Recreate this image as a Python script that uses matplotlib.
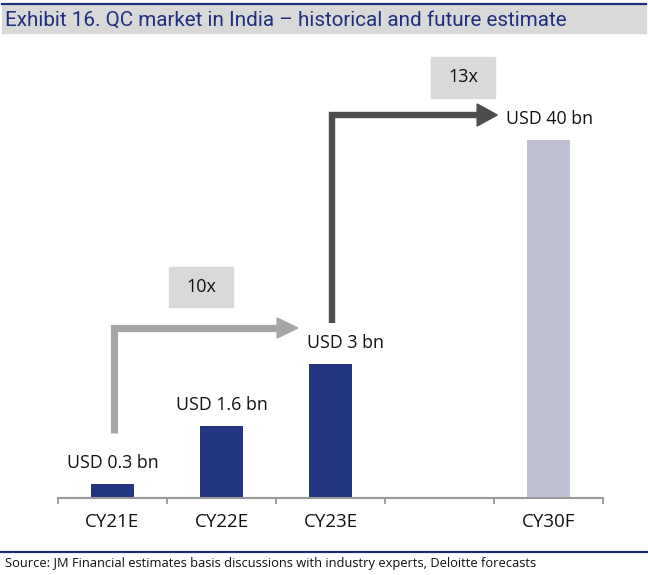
import matplotlib
matplotlib.use("Agg")
import matplotlib.pyplot as plt
from matplotlib.patches import Polygon, Rectangle

plt.rcParams['font.family'] = ['Open Sans', 'DejaVu Sans']

# data
categories = ["CY21E", "CY22E", "CY23E", "", "CY30F"]
bar_pos = [0, 1, 2, 4]
values_bn = ["0.3", "1.6", "3", "40"]
# the original chart is not drawn to scale: heights as drawn (px)
bar_heights = [13.5, 72, 133.5, 357.5]
growth = ["10x", "13x"]

navy = "#233480"
light = "#bfc0d4"
bar_colors = [navy, navy, navy, light]

W, H = 648, 575
fig = plt.figure(figsize=(W / 100, H / 100), dpi=100)

# axes: baseline at y=497.5px, x axis from 58px to 603px, 1 data unit in y = 1px
base_px = 497.5
top_px = 40
ax = fig.add_axes([58 / W, 1 - base_px / H, 545 / W, (base_px - top_px) / H])
ax.set_xlim(-0.5, 4.5)
ax.set_ylim(0, base_px - top_px)

ax.bar(bar_pos, bar_heights, width=0.4, color=bar_colors, zorder=2)

label_dx = [0, 0, 0.14, 0.01]
for x, h, v, dx in zip(bar_pos, bar_heights, values_bn, label_dx):
    ax.text(x + dx, h + 21, "USD %s bn" % v, ha="center", va="center",
            fontsize=12.8, color="#111111")

for s in ["top", "right", "left"]:
    ax.spines[s].set_visible(False)
ax.spines["bottom"].set_color("#999999")
ax.spines["bottom"].set_linewidth(1.5)
ax.set_yticks([])
ax.set_xticks(range(len(categories)))
ax.set_xticklabels(categories, fontsize=13.5, color="#111111")
ax.tick_params(axis="x", which="major", length=0, pad=11)
ax.set_xticks([i - 0.5 for i in range(len(categories) + 1)], minor=True)
ax.tick_params(axis="x", which="minor", length=4, width=1.3, color="#999999",
               direction="out")


def elbow_arrow(x0, y0, y1, x1, head_len, head_h, lw, color):
    ax.plot([x0, x0, x1 - head_len], [y0, y1, y1], color=color, lw=lw,
            solid_joinstyle="miter", solid_capstyle="butt", zorder=3,
            clip_on=False)
    ax.add_patch(Polygon([[x1 - head_len, y1 - head_h / 2], [x1, y1],
                          [x1 - head_len, y1 + head_h / 2]],
                         closed=True, color=color, zorder=3, clip_on=False))


# 10x arrow: CY21E -> CY23E
elbow_arrow(0.01, 64.5, 169.5, 1.70, 0.19, 20, 5.2, "#a6a6a6")
# 13x arrow: CY23E -> CY30F
elbow_arrow(2.01, 174.5, 382.5, 3.53, 0.185, 22, 4.6, "#4d4d4d")


def growth_box(x0, x1, y0, y1, text):
    ax.add_patch(Rectangle((x0, y0), x1 - x0, y1 - y0, color="#d9d9d9",
                           zorder=1, clip_on=False))
    ax.text((x0 + x1) / 2, (y0 + y1) / 2, text, ha="center", va="center",
            fontsize=13, color="#111111", zorder=4)


growth_box(0.518, 1.105, 190.5, 230.5, growth[0])
growth_box(2.922, 3.509, 399.5, 440.5, growth[1])

# header band and title
fig.add_artist(Rectangle((2 / W, 1 - 33 / H), 1 - 4 / W, 28 / H,
                         transform=fig.transFigure, color="#d9d9d9", zorder=0))
fig.add_artist(plt.Line2D([2 / W, 1 - 2 / W], [1 - 4 / H, 1 - 4 / H],
                          transform=fig.transFigure, color="#1f2f7f", lw=1.6))
fig.text(5 / W, 1 - 20 / H, "Exhibit 16. QC market in India \u2013 historical and future estimate",
         ha="left", va="center", fontsize=14.9, color="#1f2f7f",
         family=["Roboto", "DejaVu Sans"])

# footer
fig.add_artist(plt.Line2D([0, 1], [1 - 551.5 / H, 1 - 551.5 / H],
                          transform=fig.transFigure, color="#1f2f7f", lw=1.6))
fig.text(5 / W, 1 - 564 / H,
         "Source: JM Financial estimates basis discussions with industry experts, Deloitte forecasts",
         ha="left", va="center", fontsize=9.3, color="#111111")

fig.savefig("out.png", dpi=100)
